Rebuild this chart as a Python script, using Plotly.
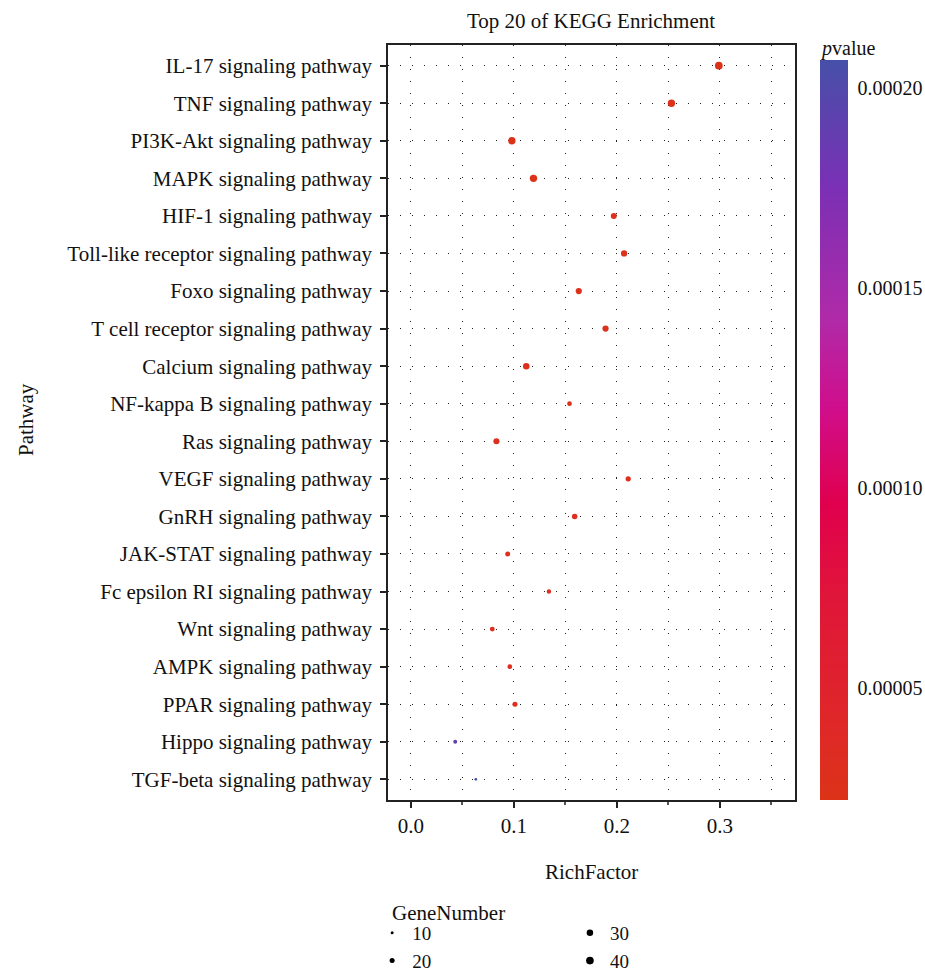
import plotly.graph_objects as go
import math

pathways = [
    "IL-17 signaling pathway", "TNF signaling pathway", "PI3K-Akt signaling pathway",
    "MAPK signaling pathway", "HIF-1 signaling pathway", "Toll-like receptor signaling pathway",
    "Foxo signaling pathway", "T cell receptor signaling pathway", "Calcium signaling pathway",
    "NF-kappa B signaling pathway", "Ras signaling pathway", "VEGF signaling pathway",
    "GnRH signaling pathway", "JAK-STAT signaling pathway", "Fc epsilon RI signaling pathway",
    "Wnt signaling pathway", "AMPK signaling pathway", "PPAR signaling pathway",
    "Hippo signaling pathway", "TGF-beta signaling pathway",
]
rich_factor = [0.299, 0.253, 0.098, 0.119, 0.197, 0.207, 0.163, 0.189, 0.112, 0.154,
               0.083, 0.211, 0.159, 0.094, 0.134, 0.079, 0.096, 0.101, 0.043, 0.063]
gene_number = [40, 37, 37, 37, 26, 28, 28, 28, 30, 18,
               27, 21, 23, 20, 16, 19, 18, 20, 14, 9]
pvalue = [0.000022, 0.000023, 0.000024, 0.000024, 0.000025, 0.000025, 0.000026, 0.000026,
          0.000027, 0.000027, 0.000028, 0.000028, 0.000029, 0.000029, 0.000030, 0.000030,
          0.000031, 0.000031, 0.000193, 0.000207]
legend_sizes = [10, 20, 30, 40]
x_ticks = [0.0, 0.1, 0.2, 0.3]
p_ticks = [0.00005, 0.00010, 0.00015, 0.00020]

FONT = "Liberation Serif"
FS = 21
LFS = 19

def diam(n):
    return math.sqrt(max(1.67 * n - 7.7, 1.0))

colorscale = [
    [0.0, "#DC3318"], [0.10, "#DF2828"], [0.28, "#E0153A"], [0.40, "#E0004E"],
    [0.53, "#D00E8C"], [0.65, "#B02AA8"], [0.83, "#7A30B5"], [1.0, "#4650A8"],
]

fig = go.Figure()
fig.add_trace(go.Scatter(
    x=rich_factor, y=pathways, mode="markers", showlegend=False,
    marker=dict(
        size=[diam(n) for n in gene_number], color=pvalue, colorscale=colorscale,
        cmin=min(pvalue), cmax=max(pvalue), line=dict(width=0), opacity=1,
        colorbar=dict(
            x=1.061, xanchor="left", xpad=0, thickness=28,
            lenmode="pixels", len=740, y=0.49, yanchor="middle", ypad=0,
            outlinewidth=0, tickvals=p_ticks,
            ticktext=[f"{v:.5f}" for v in p_ticks],
            ticks="outside", ticklen=6, tickcolor="rgba(0,0,0,0)",
            tickfont=dict(family=FONT, size=20, color="#111"),
        ),
    ),
))

for i, s in enumerate(legend_sizes):
    fig.add_trace(go.Scatter(
        x=[None], y=[None], mode="markers", name=str(s),
        marker=dict(size=diam(s), color="black", line=dict(width=0)),
        legend="legend" if i < 2 else "legend2",
    ))

grid = dict(griddash="1px,11px", gridcolor="#222", gridwidth=1)

fig.update_xaxes(
    range=[-0.0223, 0.373], tickvals=x_ticks, ticktext=[f"{v:.1f}" for v in x_ticks],
    showgrid=True, **grid, zeroline=False,
    showline=True, mirror=True, linecolor="#222", linewidth=1.5,
    ticks="outside", ticklen=6, tickcolor="#222", tickwidth=1.5,
    tickfont=dict(family=FONT, size=FS, color="#111"),
    minor=dict(dtick=0.05, tick0=0.05, showgrid=True, griddash="1px,11px",
               gridcolor="#222", gridwidth=1, ticks="outside", ticklen=3,
               tickcolor="#555"),
)
fig.update_yaxes(
    type="category", categoryorder="array", categoryarray=pathways,
    range=[19.55, -0.55], showgrid=True, **grid, zeroline=False,
    showline=True, mirror=True, linecolor="#222", linewidth=1.5,
    ticks="outside", ticklen=6, tickcolor="#222", tickwidth=1.5,
    ticklabelstandoff=4,
    tickfont=dict(family=FONT, size=FS, color="#111"),
)

fig.update_layout(
    width=925, height=972,
    margin=dict(l=388, r=130, t=45, b=172, autoexpand=False),
    plot_bgcolor="white", paper_bgcolor="white",
    font=dict(family=FONT, color="#111"),
    title=dict(text="Top 20 of KEGG Enrichment", x=(591) / 925, xanchor="center",
               y=1 - 21 / 972, yanchor="middle",
               font=dict(family=FONT, size=FS, color="#111")),
    legend=dict(x=-0.039, xanchor="left", y=-0.151, yanchor="top",
                font=dict(family=FONT, size=LFS), bgcolor="rgba(0,0,0,0)",
                tracegroupgap=0, itemsizing="trace"),
    legend2=dict(x=0.447, xanchor="left", y=-0.151, yanchor="top",
                 font=dict(family=FONT, size=LFS), bgcolor="rgba(0,0,0,0)",
                 tracegroupgap=0, itemsizing="trace"),
    annotations=[
        dict(text="GeneNumber", x=(390 - 388) / 407, xref="paper", xanchor="left",
             y=-(913 - 800) / 755, yref="paper", yanchor="middle", showarrow=False,
             font=dict(family=FONT, size=FS, color="#111")),
        dict(text="RichFactor", x=0.5, xref="paper", y=-(872 - 800) / 755, yref="paper",
             showarrow=False, xanchor="center", yanchor="middle",
             font=dict(family=FONT, size=FS, color="#111")),
        dict(text="Pathway", x=-(388 - 26) / 407, xref="paper", y=(800 - 420) / 755,
             yref="paper", showarrow=False, textangle=-90, xanchor="center",
             yanchor="middle", font=dict(family=FONT, size=FS, color="#111")),
        dict(text="<i>p</i>value", x=(818 - 388) / 407, xref="paper", xanchor="left",
             y=(800 - 48) / 755, yref="paper", yanchor="middle", showarrow=False,
             font=dict(family=FONT, size=20, color="#111")),
    ],
)

fig.write_html("out.html")
